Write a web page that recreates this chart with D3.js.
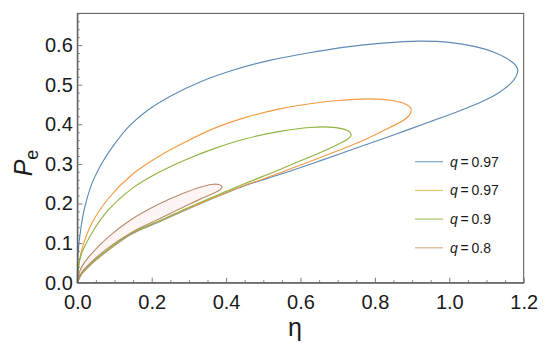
<!DOCTYPE html>
<html><head><meta charset="utf-8">
<script src="https://cdn.jsdelivr.net/npm/d3@7"></script>
<style>html,body{margin:0;padding:0;background:#fff;} svg{display:block;}</style>
</head><body><svg id="c" width="550" height="343"></svg>
<script>
// ---- data ----
const qLabels = ["0.97", "0.97", "0.9", "0.8"];
const etaTicks = [0, 0.2, 0.4, 0.6, 0.8, 1.0, 1.2];
const etaTickLabels = ["0.0", "0.2", "0.4", "0.6", "0.8", "1.0", "1.2"];
const pTicks = [0, 0.1, 0.2, 0.3, 0.4, 0.5, 0.6];
const pTickLabels = ["0.0", "0.1", "0.2", "0.3", "0.4", "0.5", "0.6"];

// closed loops [eta, Pe], origin -> upper branch -> tip -> lower branch -> origin
const loopBlue = [[0,0],[0.002,0.075],[0.01,0.14],[0.02,0.19],[0.04,0.252],[0.07,0.308],[0.1,0.35],[0.14,0.396],[0.19,0.436],[0.25,0.471],[0.33,0.507],[0.42,0.537],[0.52,0.562],[0.62,0.58],[0.72,0.595],[0.82,0.605],[0.92,0.61],[1.0,0.607],[1.07,0.596],[1.12,0.582],[1.155,0.566],[1.176,0.551],[1.184,0.538],[1.179,0.52],[1.162,0.5],[1.13,0.478],[1.09,0.458],[1.03,0.435],[0.95,0.407],[0.85,0.373],[0.75,0.34],[0.65,0.307],[0.55,0.275],[0.45,0.245],[0.388,0.222],[0.29,0.183],[0.218,0.153],[0.146,0.123],[0.083,0.082],[0.039,0.048],[0.012,0.022],[0,0]];
const loopOrange = [[0,0],[0.003,0.04],[0.012,0.083],[0.039,0.15],[0.083,0.212],[0.146,0.272],[0.218,0.318],[0.29,0.355],[0.366,0.389],[0.455,0.418],[0.545,0.439],[0.626,0.452],[0.7,0.46],[0.787,0.464],[0.845,0.46],[0.88,0.452],[0.897,0.44],[0.894,0.425],[0.877,0.41],[0.84,0.392],[0.78,0.364],[0.7,0.333],[0.6,0.297],[0.5,0.262],[0.45,0.246],[0.388,0.223],[0.29,0.184],[0.218,0.154],[0.146,0.124],[0.083,0.083],[0.039,0.049],[0.012,0.023],[0,0]];
const loopGreen = [[0,0],[0.003,0.035],[0.01,0.07],[0.039,0.125],[0.083,0.183],[0.146,0.237],[0.218,0.278],[0.29,0.31],[0.366,0.338],[0.455,0.364],[0.545,0.382],[0.626,0.392],[0.675,0.393],[0.71,0.389],[0.732,0.381],[0.736,0.372],[0.724,0.361],[0.7,0.349],[0.652,0.328],[0.6,0.308],[0.545,0.286],[0.455,0.252],[0.388,0.226],[0.29,0.186],[0.218,0.155],[0.146,0.125],[0.083,0.084],[0.039,0.05],[0.012,0.024],[0,0]];
const loopBrown = [[0,0],[0.004,0.022],[0.015,0.045],[0.039,0.074],[0.083,0.115],[0.146,0.16],[0.218,0.198],[0.28,0.224],[0.33,0.241],[0.36,0.248],[0.38,0.248],[0.389,0.243],[0.384,0.235],[0.365,0.225],[0.33,0.211],[0.29,0.193],[0.218,0.16],[0.146,0.127],[0.083,0.088],[0.039,0.053],[0.012,0.026],[0,0]];

const loops = [loopBlue, loopOrange, loopGreen, loopBrown];
const colors = ["#5e8ab5", "#f59a42", "#8db43e", "#b98c6c"];
const legendColors = ["#7ea6cc", "#e8c860", "#a8c468", "#d8b48e"];

// ---- layout ----
const svg = d3.select("#c");
const x = d3.scaleLinear().domain([0, 1.2]).range([77.3, 523.7]);
const y = d3.scaleLinear().domain([0, 0.68]).range([282.7, 13.4]);
const font = "'Liberation Sans', Arial, sans-serif";

const line = d3.line().x(d => x(d[0])).y(d => y(d[1])).curve(d3.curveCatmullRom.alpha(0.5));
// faint fill of the innermost loop
svg.append("path").attr("d", line(loopBrown)).attr("fill", "#fdf4f4").attr("stroke", "none");

// curves
svg.selectAll("path.loop").data(loops).join("path")
  .attr("class", "loop")
  .attr("d", line)
  .attr("fill", "none")
  .attr("stroke", (d, i) => colors[i])
  .attr("stroke-width", 1.15);

// frame
svg.append("rect")
  .attr("x", x(0)).attr("y", y(0.68))
  .attr("width", x(1.2) - x(0)).attr("height", y(0) - y(0.68))
  .attr("fill", "none").attr("stroke", "#555").attr("stroke-width", 1);

// axes
const xAxis = d3.axisBottom(x).tickValues(etaTicks)
  .tickFormat((d, i) => etaTickLabels[i]).tickSizeInner(-5).tickSizeOuter(0).tickPadding(12);
svg.append("g").attr("transform", `translate(0,${y(0)})`).call(xAxis);
const xMinor = d3.axisBottom(x).tickValues(x.ticks(24).filter(v => !etaTicks.some(t => Math.abs(t - v) < 1e-6)))
  .tickFormat("").tickSizeInner(-2.5).tickSizeOuter(0);
svg.append("g").attr("transform", `translate(0,${y(0)})`).call(xMinor).select(".domain").remove();

const yAxis = d3.axisLeft(y).tickValues(pTicks)
  .tickFormat((d, i) => pTickLabels[i]).tickSizeInner(-5).tickSizeOuter(0).tickPadding(4.5);
svg.append("g").attr("transform", `translate(${x(0)},0)`).call(yAxis);
const yMinor = d3.axisLeft(y).tickValues(d3.range(1, 35).map(k => k * 0.02).filter(v => !pTicks.some(t => Math.abs(t - v) < 1e-6)))
  .tickFormat("").tickSizeInner(-2.5).tickSizeOuter(0);
svg.append("g").attr("transform", `translate(${x(0)},0)`).call(yMinor).select(".domain").remove();

svg.selectAll(".domain").attr("stroke", "#555");
svg.selectAll(".tick line").attr("stroke", "#777");
svg.selectAll(".tick text").attr("font-family", font).attr("font-size", 20).attr("fill", "#1a1a1a");

// axis titles
svg.append("text").attr("x", 295).attr("y", 336).attr("text-anchor", "middle")
  .attr("font-family", font).attr("font-size", 25).attr("fill", "#1a1a1a").text("η");
const yl = svg.append("text").attr("transform", "translate(32,163) rotate(-90)")
  .attr("text-anchor", "middle").attr("font-family", font).attr("fill", "#1a1a1a");
yl.append("tspan").attr("font-size", 25).attr("font-style", "italic").text("P");
yl.append("tspan").attr("font-size", 18).attr("dy", 6).text("e");

// legend
const lg = svg.append("g");
qLabels.forEach((q, i) => {
  const ly = 161.7 + i * 28.7;
  lg.append("line").attr("x1", 415).attr("x2", 443).attr("y1", ly).attr("y2", ly)
    .attr("stroke", legendColors[i]).attr("stroke-width", 1.2);
  const t = lg.append("text").attr("x", 450).attr("y", ly + 5)
    .attr("font-family", font).attr("font-size", 14).attr("fill", "#1a1a1a");
  t.append("tspan").attr("font-style", "italic").text("q");
  t.append("tspan").text("\u2009=\u2009" + q);
});
</script>
</body></html>
